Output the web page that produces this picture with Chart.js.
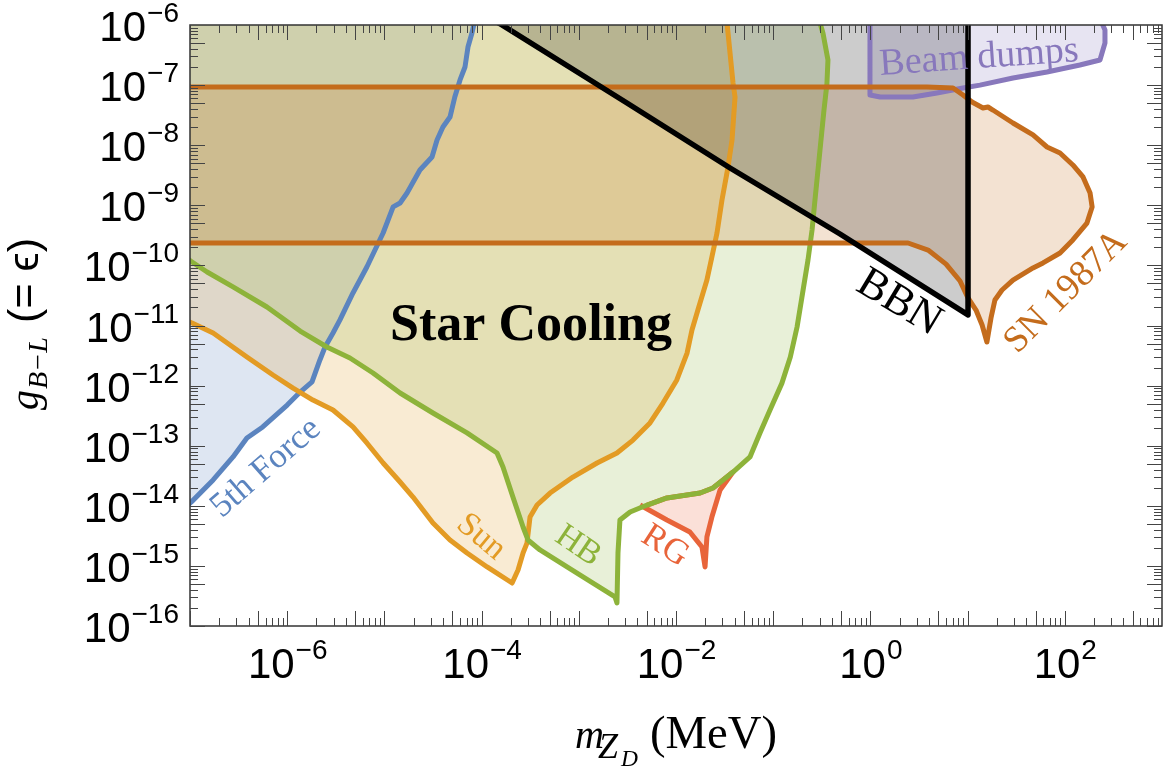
<!DOCTYPE html>
<html lang="en">
<head>
<meta charset="UTF-8" />
<title>B-L gauge boson bounds</title>
<script src="https://cdn.jsdelivr.net/npm/chart.js"></script>
<style>
  html, body { margin: 0; padding: 0; background: #fff; }
  #wrap { width: 1167px; height: 768px; }
</style>
</head>
<body>
<div id="wrap"><canvas id="chart"></canvas></div>
<script>
// region outlines: mass m_ZD (MeV) and coupling g
const fifthForceM = [7.9e-8, 1.04e-7, 1.73e-7, 2.77e-7, 3.85e-7, 5.6e-7, 1.0e-6, 1.36e-6, 1.8e-6, 2.17e-6, 2.45e-6, 2.96e-6, 3.49e-6, 4.75e-6, 6.6e-6, 9.7e-6, 1.23e-5, 1.45e-5, 1.71e-5, 2.32e-5, 3.09e-5, 3.48e-5, 4.0e-5, 4.73e-5, 5.3e-5, 6.0e-5, 6.75e-5, 7.24e-5, 7.96e-5, 8.36e-5, 8.75e-5, 7.9e-8];
const fifthForceG = [7.9e-15, 1.17e-14, 2.69e-14, 6.5e-14, 1.34e-13, 2.05e-13, 4.75e-13, 7.8e-13, 1.15e-12, 2.67e-12, 4.39e-12, 7.5e-12, 1.24e-11, 3.48e-11, 9.4e-11, 3.46e-10, 9.4e-10, 1.09e-9, 1.6e-9, 3.86e-9, 6.37e-9, 1.22e-8, 2.01e-8, 2.94e-8, 6.34e-8, 1.22e-7, 2.0e-7, 4.3e-7, 7.36e-7, 1.04e-6, 1.78e-6, 1.78e-6];

const sunM = [7.9e-8, 1.05e-7, 1.73e-7, 3.85e-7, 7.14e-7, 1.15e-6, 1.84e-6, 2.96e-6, 4.75e-6, 6.6e-6, 9.7e-6, 1.45e-5, 1.97e-5, 3.16e-5, 4.73e-5, 7.08e-5, 1.14e-4, 2.06e-4, 2.37e-4, 2.67e-4, 2.93e-4, 3.15e-4, 3.72e-4, 5.06e-4, 8.7e-4, 1.54e-3, 2.47e-3, 3.61e-3, 5.4e-3, 7.35e-3, 1.02e-2, 1.3e-2, 1.46e-2, 1.68e-2, 2.08e-2, 2.34e-2, 2.64e-2, 2.97e-2, 3.43e-2, 3.77e-2, 4.05e-2, 3.86e-2, 3.35e-2, 3.27e-2, 7.9e-8];
const sunG = [1.33e-11, 1.1e-11, 7.5e-12, 2.99e-12, 1.5e-12, 9.1e-13, 5.75e-13, 3.93e-13, 2.05e-13, 1.11e-13, 5.15e-14, 2.49e-14, 1.4e-14, 5.17e-15, 2.7e-15, 1.64e-15, 9.6e-16, 5.19e-16, 8.55e-16, 1.64e-15, 2.4e-15, 6.5e-15, 1.03e-14, 1.63e-14, 3.01e-14, 5.15e-14, 7.57e-14, 1.24e-13, 2.39e-13, 5.13e-13, 1.24e-12, 3.48e-12, 8.41e-12, 1.81e-11, 5.71e-11, 1.38e-10, 3.46e-10, 1.22e-9, 4.34e-9, 1.22e-8, 6.34e-8, 1.08e-7, 1.08e-6, 1.78e-6, 1.78e-6];

const hbM = [7.9e-8, 1.05e-7, 1.5e-7, 2.77e-7, 6.19e-7, 1.36e-6, 2.56e-6, 4.42e-6, 7.64e-6, 1.45e-5, 3.16e-5, 7.08e-5, 1.44e-4, 1.66e-4, 2.1e-4, 2.67e-4, 3.0e-4, 3.99e-4, 7.57e-4, 1.4e-3, 2.36e-3, 2.47e-3, 2.53e-3, 2.65e-3, 3.37e-3, 5.04e-3, 8.07e-3, 1.77e-2, 2.4e-2, 3.05e-2, 3.86e-2, 5.77e-2, 7.31e-2, 9.27e-2, 0.123, 0.15, 0.176, 0.203, 0.228, 0.251, 0.269, 0.303, 0.333, 0.357, 0.366, 0.325, 0.303, 0.296, 7.9e-8];
const hbG = [1.55e-10, 1.14e-10, 7.76e-11, 4.38e-11, 2.03e-11, 8.09e-12, 4.39e-12, 2.88e-12, 1.62e-12, 7.53e-13, 3.5e-13, 1.63e-13, 7.57e-14, 4.43e-14, 1.4e-14, 4.44e-15, 2.7e-15, 1.84e-15, 9.6e-16, 5.19e-16, 3.04e-16, 2.42e-16, 1.64e-15, 5.81e-15, 7.9e-15, 1.03e-14, 1.35e-14, 1.63e-14, 1.98e-14, 2.69e-14, 3.65e-14, 6.5e-14, 1.63e-13, 3.93e-13, 1.1e-12, 2.99e-12, 9.44e-12, 3.9e-11, 1.23e-10, 3.88e-10, 1.22e-9, 8.32e-9, 3.85e-8, 1.04e-7, 2.62e-7, 7.36e-7, 1.08e-6, 1.78e-6, 1.78e-6];

const rgM = [4.27e-3, 8.07e-3, 1.39e-2, 1.85e-2, 1.99e-2, 2.08e-2, 2.34e-2, 2.84e-2, 3.86e-2, 3.05e-2, 2.4e-2, 1.77e-2, 8.07e-3, 5.04e-3];
const rgG = [1.03e-14, 5.81e-15, 3.66e-15, 2.06e-15, 9.6e-16, 3.03e-15, 6.5e-15, 1.83e-14, 3.65e-14, 2.69e-14, 1.98e-14, 1.63e-14, 1.35e-14, 1.03e-14];

const snM = [7.9e-8, 3.82, 7.08, 8.97, 11.1, 14.4, 16.2, 18.2, 29.3, 47.1, 65.6, 89.3, 121, 154, 182, 191, 169, 121, 89.3, 59.7, 47.1, 29.3, 22.6, 19.1, 17.4, 15.8, 14.1, 12.2, 10.1, 8.36, 6.0, 3.92, 2.44, 7.9e-8];
const snG = [9.29e-8, 9.29e-8, 8.95e-8, 6.84e-8, 5.24e-8, 4.16e-8, 4.32e-8, 3.85e-8, 2.34e-8, 1.48e-8, 9.33e-9, 7.41e-9, 4.69e-9, 2.96e-9, 1.6e-9, 9.4e-10, 5.07e-10, 2.65e-10, 1.61e-10, 1.1e-10, 9.06e-11, 5.71e-11, 3.9e-11, 2.65e-11, 1.33e-11, 5.31e-12, 1.02e-11, 1.81e-11, 2.87e-11, 5.5e-11, 1.05e-10, 1.8e-10, 2.36e-10, 2.36e-10];

const bbnM = [1.08e-4, 1.62e-4, 3.13e-3, 3.6e-2, 0.487, 10.1, 10.1];
const bbnG = [1.47e-6, 1.0e-6, 5.04e-8, 4.18e-9, 3.33e-10, 1.5e-11, 1.78e-6];

const beamM = [0.99, 0.99, 1.26, 2.74, 4.84, 8.97, 13.4, 29.3, 65.6, 143, 230, 259, 259, 241, 236];
const beamG = [1.78e-6, 6.84e-8, 6.34e-8, 6.34e-8, 7.4e-8, 8.95e-8, 1.0e-7, 1.31e-7, 1.65e-7, 2.16e-7, 2.62e-7, 5.01e-7, 8.26e-7, 1.08e-6, 1.78e-6];

// tick labels (powers of ten)
const xLabelPowers = [-6, -4, -2, 0, 2];
const yLabelPowers = [-6, -7, -8, -9, -10, -11, -12, -13, -14, -15, -16];

const pts = (xs, ys) => xs.map((x, i) => ({x, y: ys[i]}));

function region(label, xs, ys, color, fillColor, order, extra) {
  return Object.assign({
    label,
    data: pts(xs, ys),
    showLine: true,
    fill: 'shape',
    borderColor: color,
    backgroundColor: fillColor,
    borderWidth: 5,
    borderJoinStyle: 'round',
    pointRadius: 0,
    tension: 0,
    clip: 0,
    order
  }, extra || {});
}

const SERIF = '"Liberation Serif", "Times New Roman", serif';
const SANS = '"Liberation Sans", Arial, sans-serif';

function powLabel(ctx, p, x, y, align) {
  const base = '10';
  const exp = p < 0 ? '\u2212' + (-p) : String(p);
  ctx.font = '42px ' + SANS;
  const wb = ctx.measureText(base).width;
  ctx.font = '28px ' + SANS;
  const we = ctx.measureText(exp).width;
  const left = align === 'center' ? x - (wb + we) / 2 : x - (wb + we);
  ctx.textAlign = 'left';
  ctx.textBaseline = 'alphabetic';
  ctx.font = '42px ' + SANS;
  ctx.fillText(base, left, y);
  ctx.font = '28px ' + SANS;
  ctx.fillText(exp, left + wb + 1, y - 19);
}

// draw text so that it spans a given width
function fitText(ctx, str, x, y, width, size, style, family) {
  ctx.font = style + ' ' + size + 'px ' + family;
  const w = ctx.measureText(str).width;
  const s = Math.round(size * width / w * 10) / 10;
  ctx.font = style + ' ' + s + 'px ' + family;
  ctx.fillText(str, x, y);
}

function rotText(ctx, str, x, y, deg, font, color) {
  ctx.save();
  ctx.translate(x, y);
  ctx.rotate(deg * Math.PI / 180);
  ctx.font = font;
  ctx.fillStyle = color;
  ctx.textAlign = 'center';
  ctx.textBaseline = 'middle';
  ctx.fillText(str, 0, 0);
  ctx.restore();
}

const decor = {
  id: 'decor',
  afterDatasetsDraw(chart) {
    const {ctx, chartArea: a, scales: {x, y}} = chart;
    ctx.save();

    // frame
    ctx.strokeStyle = '#333';
    ctx.lineWidth = 1.5;
    ctx.strokeRect(a.left, a.top, a.right - a.left, a.bottom - a.top);

    // inward ticks on all four sides
    ctx.lineWidth = 1;
    ctx.strokeStyle = '#444';
    ctx.beginPath();
    for (let d = -7; d <= 2; d++) {
      for (let m = 1; m <= 9; m++) {
        const px = Math.round(x.getPixelForValue(m * Math.pow(10, d))) + 0.5;
        const len = (m === 1 || m === 5) ? 15 : 8;
        ctx.moveTo(px, a.bottom); ctx.lineTo(px, a.bottom - len);
        ctx.moveTo(px, a.top); ctx.lineTo(px, a.top + len);
      }
    }
    for (let d = -16; d <= -7; d++) {
      for (let m = 1; m <= 9; m++) {
        const py = Math.round(y.getPixelForValue(m * Math.pow(10, d))) + 0.5;
        const len = (m === 1 || m === 5) ? 15 : 8;
        ctx.moveTo(a.left, py); ctx.lineTo(a.left + len, py);
        ctx.moveTo(a.right, py); ctx.lineTo(a.right - len, py);
      }
    }
    ctx.stroke();

    // tick labels
    ctx.fillStyle = '#000';
    xLabelPowers.forEach(p => powLabel(ctx, p, x.getPixelForValue(Math.pow(10, p)), a.bottom + 52, 'center'));
    yLabelPowers.forEach(p => powLabel(ctx, p, 178, y.getPixelForValue(Math.pow(10, p)) + 16, 'right'));

    // x axis title: m_{Z_D} (MeV)
    ctx.textAlign = 'left';
    ctx.textBaseline = 'alphabetic';
    fitText(ctx, 'm', 575, 748, 29, 42, 'italic', SERIF);
    fitText(ctx, 'Z', 598, 758, 20, 30, 'italic', SERIF);
    fitText(ctx, 'D', 621, 766, 17, 21, 'italic', SERIF);
    fitText(ctx, '(MeV)', 650, 748, 127, 44, 'normal', SERIF);

    // y axis title: g_{B-L} (= eps)
    ctx.save();
    ctx.translate(38, 410);
    ctx.rotate(-Math.PI / 2);
    fitText(ctx, 'g', 0, 0, 20, 40, 'italic', SERIF);
    fitText(ctx, 'B\u2212L', 21, 9, 52, 28, 'italic', SERIF);
    fitText(ctx, '(= \u03F5)', 87, 0, 85, 36, 'normal', SANS);
    ctx.restore();

    // region labels
    ctx.textAlign = 'center';
    fitText(ctx, 'Star Cooling', 531, 340, 282, 52, 'bold', SERIF);
    rotText(ctx, '5th Force', 266, 468, -41, '35px ' + SERIF, '#5b84bf');
    rotText(ctx, 'Sun', 481, 537, 40, '34px ' + SERIF, '#e39b24');
    rotText(ctx, 'HB', 578, 546, 34, '34px ' + SERIF, '#8db33a');
    rotText(ctx, 'RG', 665, 546, 33, '35px ' + SERIF, '#e8643a');
    rotText(ctx, 'BBN', 899, 303, 31, '44px ' + SERIF, '#000');
    rotText(ctx, 'SN 1987A', 1066, 292, -45, '37px ' + SERIF, '#c46c1c');
    rotText(ctx, 'Beam dumps', 979, 58, -4, '38px ' + SERIF, '#8878bc');

    ctx.restore();
  }
};

new Chart(document.getElementById('chart'), {
  type: 'scatter',
  data: {
    datasets: [
      region('BBN', bbnM, bbnG, '#000000', 'rgba(0,0,0,0.2)', 0, {borderWidth: 5.5}),
      region('SN 1987A', snM, snG, '#c46c1c', 'rgba(196,108,28,0.2)', 1),
      region('Beam dumps', beamM, beamG, '#8878bc', 'rgba(136,120,188,0.2)', 2),
      region('HB', hbM, hbG, '#8db33a', 'rgba(141,179,58,0.2)', 3),
      region('RG', rgM, rgG, '#e8643a', 'rgba(233,100,58,0.2)', 4),
      region('Sun', sunM, sunG, '#e39b24', 'rgba(227,155,36,0.2)', 5),
      region('5th Force', fifthForceM, fifthForceG, '#5b84bf', 'rgba(91,132,191,0.2)', 6)
    ]
  },
  options: {
    responsive: true,
    maintainAspectRatio: false,
    animation: false,
    layout: { padding: { left: 190, right: 5, top: 25, bottom: 142 } },
    scales: {
      x: { type: 'logarithmic', min: 1e-7, max: 1e3, display: false },
      y: { type: 'logarithmic', min: 1e-16, max: 1e-6, display: false }
    },
    plugins: {
      legend: { display: false },
      tooltip: { enabled: false },
      filler: { drawTime: 'beforeDatasetsDraw' }
    }
  },
  plugins: [decor]
});
</script>
</body>
</html>
